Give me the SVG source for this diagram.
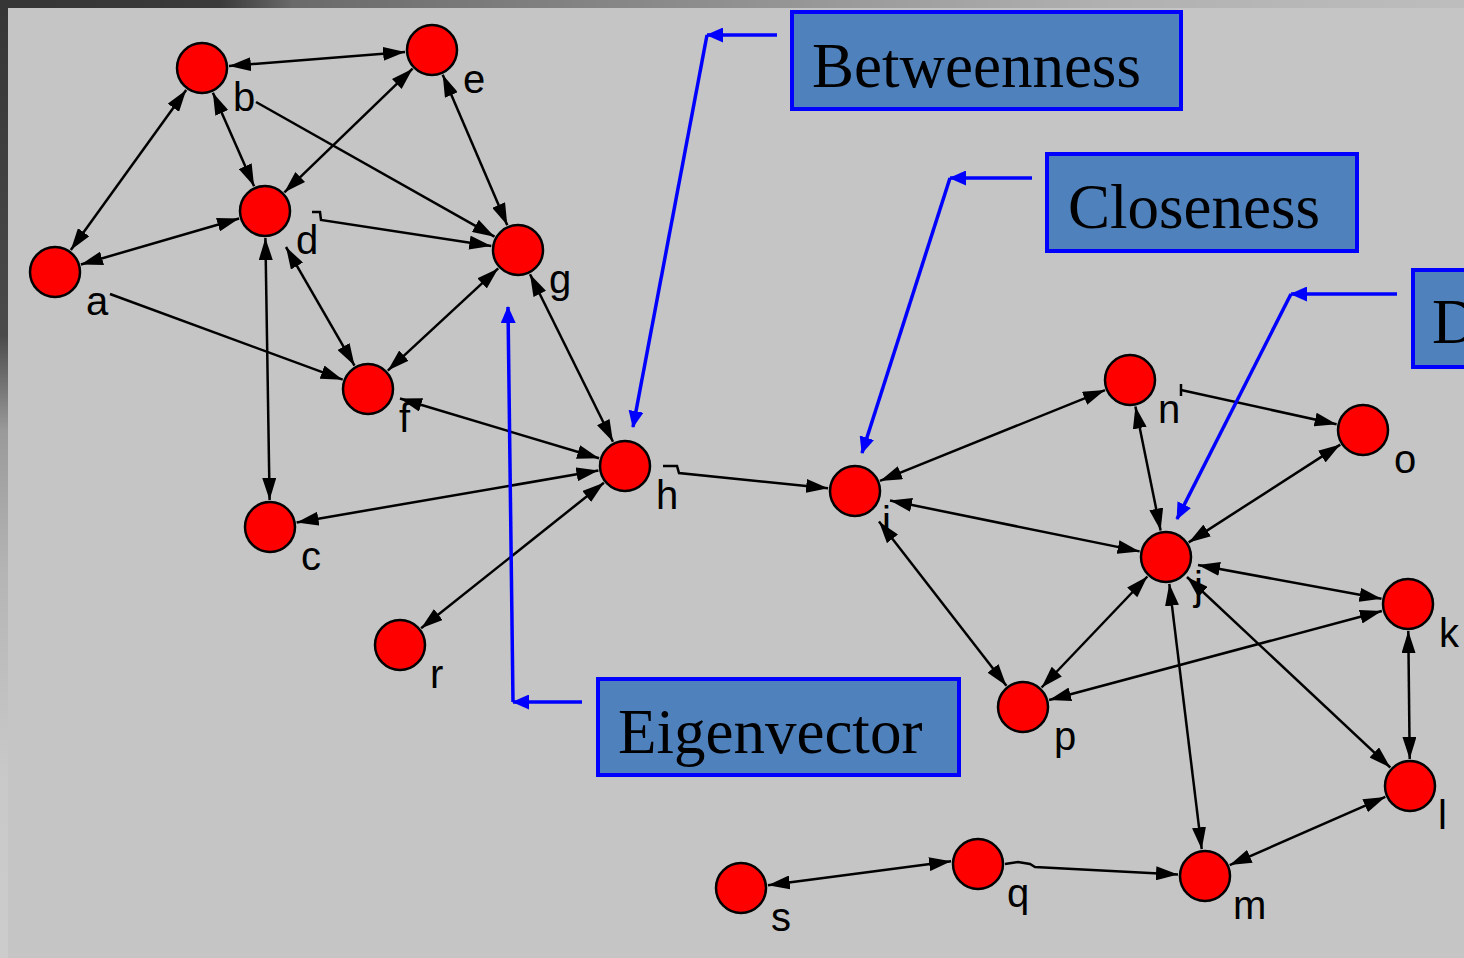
<svg xmlns="http://www.w3.org/2000/svg" width="1464" height="958" viewBox="0 0 1464 958">
<style>
.bg{fill:#c5c5c5}
.node circle{fill:#ff0000;stroke:#000;stroke-width:2.5}
.node text{font-family:"Liberation Sans",Arial,sans-serif;font-size:40px;fill:#000}
.e{stroke:#000;stroke-width:2.5;fill:none}
.bi{marker-start:url(#ah);marker-end:url(#ah)}
.uni{marker-end:url(#ah)}
.ann rect{fill:#4f81bd;stroke:#0000ff;stroke-width:4}
.ann text{font-family:"Liberation Serif","Times New Roman",serif;font-size:63px;fill:#000}
.bl{stroke:#0000ff;stroke-width:3.5;fill:none;marker-end:url(#bh)}
</style>
<defs>
<marker id="ah" markerUnits="userSpaceOnUse" markerWidth="22" markerHeight="14" refX="22" refY="7" orient="auto-start-reverse" viewBox="0 0 22 14">
<path d="M0,0 L22,7 L0,14 z" fill="#000"/>
</marker>
<marker id="bh" markerUnits="userSpaceOnUse" markerWidth="17" markerHeight="15" refX="16" refY="7.5" orient="auto" viewBox="0 0 17 15">
<path d="M0,0 L17,7.5 L0,15 z" fill="#0000ff"/>
</marker>
<linearGradient id="topg" x1="0" y1="0" x2="1" y2="0">
<stop offset="0" stop-color="#353535"/>
<stop offset="0.15" stop-color="#3a3a3a"/>
<stop offset="0.2" stop-color="#6a6a6a"/>
<stop offset="0.45" stop-color="#8a8a8a"/>
<stop offset="0.75" stop-color="#b0b0b0"/>
<stop offset="1" stop-color="#bdbdbd"/>
</linearGradient>
<linearGradient id="leftg" x1="0" y1="0" x2="0" y2="1">
<stop offset="0" stop-color="#353535"/>
<stop offset="0.35" stop-color="#4a4a4a"/>
<stop offset="0.45" stop-color="#9a9a9a"/>
<stop offset="0.6" stop-color="#b5b5b5"/>
<stop offset="0.8" stop-color="#c8c8c8"/>
<stop offset="1" stop-color="#cccccc"/>
</linearGradient>
</defs>

<rect x="0" y="0" width="1464" height="958" class="bg"/>
<rect x="0" y="0" width="1464" height="8" fill="url(#topg)"/>
<rect x="0" y="0" width="8" height="958" fill="url(#leftg)"/>

<g id="connectors">
<line class="e bi" x1="228.9" y1="65.9" x2="405.1" y2="52.1"/>
<line class="e bi" x1="186.2" y1="89.9" x2="70.8" y2="250.1"/>
<line class="e bi" x1="212.9" y1="92.7" x2="254.1" y2="186.3"/>
<line class="e bi" x1="412.6" y1="68.7" x2="284.4" y2="192.3"/>
<line class="e uni" x1="256" y1="102" x2="494.5" y2="236.7"/>
<line class="e bi" x1="442.7" y1="74.8" x2="507.3" y2="225.2"/>
<line class="e bi" x1="80.9" y1="264.5" x2="239.1" y2="218.5"/>
<polyline class="e uni" points="312,212 320,212 321,220 491.3,245.9"/>
<line class="e uni" x1="110" y1="294" x2="342.7" y2="379.7"/>
<line class="e bi" x1="265.4" y1="238" x2="269.6" y2="500"/>
<line class="e bi" x1="286" y1="247" x2="354.5" y2="365.6"/>
<line class="e bi" x1="498.2" y1="268.4" x2="387.8" y2="370.6"/>
<line class="e bi" x1="530" y1="274.2" x2="613" y2="441.8"/>
<line class="e bi" x1="400" y1="398.5" x2="599.1" y2="458.3"/>
<line class="e bi" x1="296.6" y1="522.4" x2="598.4" y2="470.6"/>
<line class="e bi" x1="421.1" y1="628.2" x2="603.9" y2="482.8"/>
<polyline class="e uni" points="663,466 677,466 679,473 828.1,488.2"/>
<line class="e bi" x1="880" y1="480.9" x2="1105" y2="390.1"/>
<line class="e bi" x1="890" y1="500.5" x2="1139.6" y2="551.4"/>
<line class="e bi" x1="879" y1="521.5" x2="1006.4" y2="685.7"/>
<line class="e" x1="1181" y1="384" x2="1181" y2="396"/>
<line class="e uni" x1="1181" y1="390" x2="1336.6" y2="424.3"/>
<line class="e bi" x1="1135.4" y1="406.5" x2="1160.6" y2="530.5"/>
<line class="e bi" x1="1340.3" y1="444.6" x2="1188.7" y2="542.4"/>
<line class="e bi" x1="1198" y1="565" x2="1381.5" y2="598.8"/>
<line class="e bi" x1="1147.4" y1="576.5" x2="1041.6" y2="687.5"/>
<line class="e bi" x1="1049.1" y1="700" x2="1381.9" y2="611"/>
<line class="e bi" x1="1187" y1="577" x2="1390.3" y2="767.5"/>
<line class="e bi" x1="1169.3" y1="583.8" x2="1201.7" y2="849.2"/>
<line class="e bi" x1="1408.3" y1="631" x2="1409.7" y2="759"/>
<line class="e bi" x1="1385.3" y1="796.9" x2="1229.7" y2="865.1"/>
<polyline class="e uni" points="1005,864 1018,862 1030,864 1035,867 1178,874.5"/>
<line class="e bi" x1="767.9" y1="885.3" x2="951.1" y2="861.3"/>
</g>

<g id="node-a" class="node"><circle cx="55" cy="272" r="25"/><text x="86" y="315">a</text></g>
<g id="node-b" class="node"><circle cx="202" cy="68" r="25"/><text x="233" y="111">b</text></g>
<g id="node-c" class="node"><circle cx="270" cy="527" r="25"/><text x="301" y="570">c</text></g>
<g id="node-d" class="node"><circle cx="265" cy="211" r="25"/><text x="296" y="254">d</text></g>
<g id="node-e" class="node"><circle cx="432" cy="50" r="25"/><text x="463" y="93">e</text></g>
<g id="node-f" class="node"><circle cx="368" cy="389" r="25"/><text x="399" y="432">f</text></g>
<g id="node-g" class="node"><circle cx="518" cy="250" r="25"/><text x="549" y="293">g</text></g>
<g id="node-h" class="node"><circle cx="625" cy="466" r="25"/><text x="656" y="509">h</text></g>
<g id="node-i" class="node"><circle cx="855" cy="491" r="25"/><text x="882" y="535">i</text></g>
<g id="node-j" class="node"><circle cx="1166" cy="557" r="25"/><text x="1194" y="600">j</text></g>
<g id="node-k" class="node"><circle cx="1408" cy="604" r="25"/><text x="1439" y="647">k</text></g>
<g id="node-l" class="node"><circle cx="1410" cy="786" r="25"/><text x="1438" y="829">l</text></g>
<g id="node-m" class="node"><circle cx="1205" cy="876" r="25"/><text x="1233" y="919">m</text></g>
<g id="node-n" class="node"><circle cx="1130" cy="380" r="25"/><text x="1158" y="423">n</text></g>
<g id="node-o" class="node"><circle cx="1363" cy="430" r="25"/><text x="1394" y="473">o</text></g>
<g id="node-p" class="node"><circle cx="1023" cy="707" r="25"/><text x="1054" y="750">p</text></g>
<g id="node-q" class="node"><circle cx="978" cy="864" r="25"/><text x="1007" y="907">q</text></g>
<g id="node-r" class="node"><circle cx="400" cy="645" r="25"/><text x="430" y="688">r</text></g>
<g id="node-s" class="node"><circle cx="741" cy="888" r="25"/><text x="771" y="931">s</text></g>

<g id="annotation-arrows">
<line class="bl" x1="777" y1="35" x2="707" y2="35"/>
<line class="bl" x1="707" y1="35" x2="633" y2="427"/>
<line class="bl" x1="1032" y1="178" x2="950" y2="178"/>
<line class="bl" x1="950" y1="178" x2="862" y2="453"/>
<line class="bl" x1="1397" y1="294" x2="1291" y2="294"/>
<line class="bl" x1="1291" y1="294" x2="1177" y2="519"/>
<line class="bl" x1="582" y1="702" x2="513" y2="702"/>
<line class="bl" x1="513" y1="702" x2="508" y2="307"/>
</g>

<g id="label-betweenness" class="ann"><rect x="792" y="12" width="389" height="97"/><text x="812" y="87">Betweenness</text></g>
<g id="label-closeness" class="ann"><rect x="1047" y="154" width="310" height="97"/><text x="1068" y="228">Closeness</text></g>
<g id="label-degree" class="ann"><rect x="1413" y="270" width="60" height="97"/><text x="1432" y="343">D</text></g>
<g id="label-eigenvector" class="ann"><rect x="598" y="679" width="361" height="96"/><text x="618" y="753">Eigenvector</text></g>
</svg>
